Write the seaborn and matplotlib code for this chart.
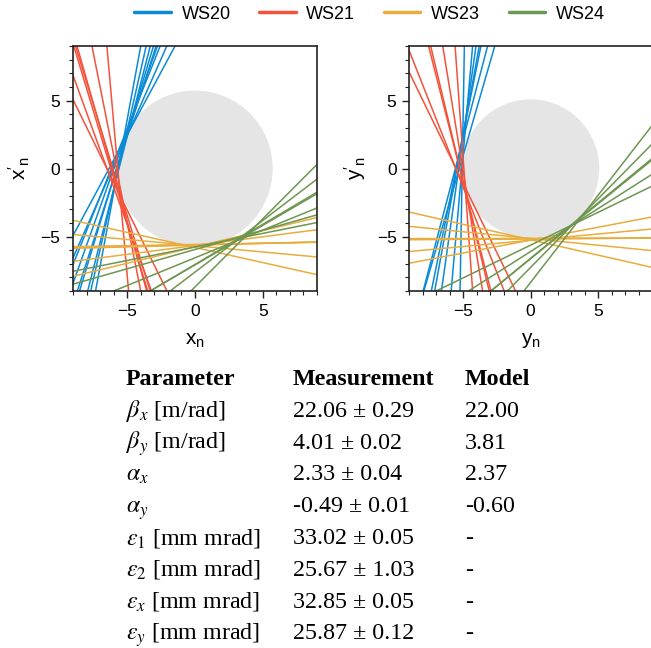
import numpy as np
import pandas as pd
import seaborn as sns
import matplotlib.pyplot as plt
from matplotlib.patches import Circle
from matplotlib.ticker import MultipleLocator

scanners = ["WS20", "WS21", "WS23", "WS24"]
colors = ["#0b8bd6", "#f4523a", "#e8ad3c", "#6e9650"]

# reconstruction lines in normalised phase space, x' = m * x + b
# horizontal plane
ws20_x_m = [5.4, 4.4, 3.9, 3.3, 3.1, 2.8, 2.5, 2.25, 1.85]
ws20_x_b = [30.6, 24.84, 21.87, 19.1, 17.9, 16.76, 15.43, 13.68, 11.72]
ws21_x_m = [-11.25, -5.0, -3.5, -3.27, -3.3, -2.74, -2.03]
ws21_x_b = [-64.1, -29.0, -21.45, -19.8, -20.5, -17.8, -13.2]
ws23_x_m = [-0.222, -0.092, 0.018, 0.022, 0.026, 0.129, 0.24]
ws23_x_b = [-5.8, -5.67, -5.58, -5.6, -5.63, -5.66, -5.76]
ws24_x_m = [1.0, 0.759, 0.581, 0.59, 0.407, 0.283, 0.199]
ws24_x_b = [-8.7, -7.61, -7.08, -7.05, -6.56, -5.95, -5.76]

# vertical plane
ws20_y_m = [56.25, 11.32, 7.03, 5.45, 4.90, 3.77, 3.43]
ws20_y_b = [284.6, 57.56, 37.4, 29.7, 27.0, 20.99, 18.09]
ws21_y_m = [-13.85, -6.10, -4.15, -3.90, -2.51, -2.04]
ws21_y_b = [-68.4, -30.66, -21.7, -20.45, -13.9, -11.26]
ws23_y_m = [-0.226, -0.099, 0.002, 0.004, 0.007, 0.092, 0.189]
ws23_y_b = [-5.23, -5.14, -5.13, -5.15, -5.17, -5.27, -5.26]
ws24_y_m = [1.281, 1.008, 0.807, 0.815, 0.631, 0.482]
ws24_y_b = [-8.37, -7.27, -6.63, -6.6, -6.1, -5.63]

# emittances (mm mrad) -> radius of the phase space circle
emit_x = 32.85
emit_y = 25.87

# table
params = [r"$\beta_x$ [m/rad]", r"$\beta_y$ [m/rad]", r"$\alpha_x$", r"$\alpha_y$",
          r"$\varepsilon_1$ [mm mrad]", r"$\varepsilon_2$ [mm mrad]",
          r"$\varepsilon_x$ [mm mrad]", r"$\varepsilon_y$ [mm mrad]"]
measured = ["22.06 ± 0.29", "4.01 ± 0.02", "2.33 ± 0.04", "-0.49 ± 0.01",
            "33.02 ± 0.05", "25.67 ± 1.03", "32.85 ± 0.05", "25.87 ± 0.12"]
model = ["22.00", "3.81", "2.37", "-0.60", "-", "-", "-", "-"]


def lines_df(groups):
    rows = []
    for ws, (ms, bs) in zip(scanners, groups):
        for i, (m, b) in enumerate(zip(ms, bs)):
            for x in (-10, 10):
                rows.append({"scanner": ws, "line": f"{ws}_{i}", "x": x, "y": m * x + b})
    return pd.DataFrame(rows)


df_x = lines_df([(ws20_x_m, ws20_x_b), (ws21_x_m, ws21_x_b),
                 (ws23_x_m, ws23_x_b), (ws24_x_m, ws24_x_b)])
df_y = lines_df([(ws20_y_m, ws20_y_b), (ws21_y_m, ws21_y_b),
                 (ws23_y_m, ws23_y_b), (ws24_y_m, ws24_y_b)])

sns.set_theme(style="ticks")
plt.rcParams["font.family"] = ["Liberation Sans", "DejaVu Sans"]
plt.rcParams["text.color"] = "black"
plt.rcParams["axes.labelcolor"] = "black"
plt.rcParams["mathtext.fontset"] = "custom"
plt.rcParams["mathtext.rm"] = "Liberation Sans"
plt.rcParams["mathtext.it"] = "Liberation Sans:italic"
plt.rcParams["mathtext.bf"] = "Liberation Sans:bold"

fig = plt.figure(figsize=(6.51, 6.48), dpi=100)
ax1 = fig.add_axes([0.1121, 0.5509, 0.3748, 0.378])
ax2 = fig.add_axes([0.6283, 0.5509, 0.3733, 0.378])

palette = dict(zip(scanners, colors))
for ax, df, emit, lab in [(ax1, df_x, emit_x, "x"), (ax2, df_y, emit_y, "y")]:
    ax.add_patch(Circle((0, 0), np.sqrt(emit), color="#e5e5e5", lw=0, zorder=0))
    sns.lineplot(data=df, x="x", y="y", hue="scanner", units="line", estimator=None,
                 sort=False, palette=palette, lw=1.1, ax=ax, legend=(ax is ax1))
    ax.set_xlim(-9, 9)
    ax.set_ylim(-9, 9)
    ax.xaxis.set_major_locator(MultipleLocator(5))
    ax.yaxis.set_major_locator(MultipleLocator(5))
    ax.xaxis.set_minor_locator(MultipleLocator(1))
    ax.yaxis.set_minor_locator(MultipleLocator(1))
    ax.tick_params(which="major", length=5, width=1, direction="out", labelsize=12.5,
                   colors="#222222", labelcolor="black", pad=4)
    ax.tick_params(which="minor", length=3, width=0.8, direction="out", colors="#222222")
    for s in ax.spines.values():
        s.set_linewidth(1.2)
        s.set_color("#222222")
    ax.set_xlabel(r"$\mathrm{%s_n}$" % lab, fontsize=15, labelpad=9)
    ax.set_ylabel(r"$\mathrm{%s}'_\mathrm{n}$" % lab, fontsize=15, labelpad=6)

handles, labels = ax1.get_legend_handles_labels()
ax1.get_legend().remove()
for h in handles:
    h.set_linewidth(2.5)
fig.legend(handles, labels, loc="center", bbox_to_anchor=(0.568, 0.978), ncol=4,
           frameon=False, fontsize=13, handlelength=2.0, handletextpad=0.6,
           columnspacing=1.6)

# parameter table
col_x = [0.1935, 0.450, 0.714]
head_y = 1 - 385.0 / 648
row_step = 31.8 / 648
tkw = dict(fontsize=17.3, family=["Liberation Serif", "STIXGeneral"], math_fontfamily="stix",
           va="baseline", ha="left", color="black")
for x, h in zip(col_x, ["Parameter", "Measurement", "Model"]):
    fig.text(x, head_y, h, fontweight="bold", **tkw)
for i, (p, m, mo) in enumerate(zip(params, measured, model)):
    y = head_y - (i + 1) * row_step
    fig.text(col_x[0], y, p, **tkw)
    fig.text(col_x[1], y, m, **tkw)
    fig.text(col_x[2], y, mo, **tkw)

fig.savefig("out.png", dpi=100)
